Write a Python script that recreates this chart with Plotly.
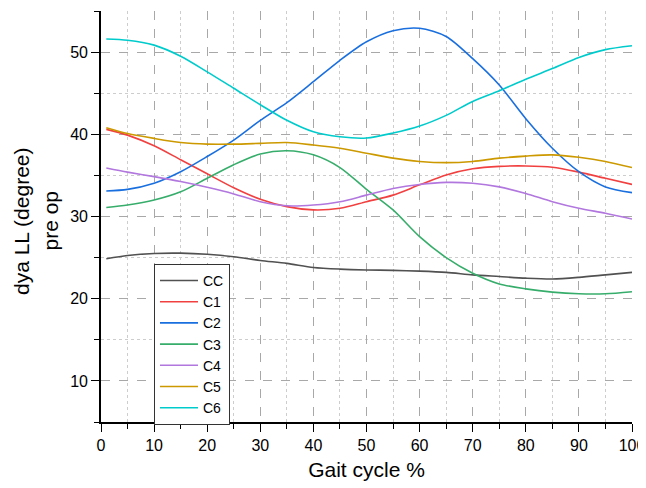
import plotly.graph_objects as go

x = [1, 5, 10, 15, 20, 25, 30, 35, 40, 45, 50, 55, 60, 65, 70, 75, 80, 85, 90, 95, 100]

CC = [24.85, 25.25, 25.5, 25.54, 25.4, 25.1, 24.65, 24.3, 23.8, 23.6, 23.5, 23.45, 23.35, 23.2, 22.9, 22.7, 22.5, 22.4, 22.6, 22.9, 23.2]
C1 = [40.6, 39.9, 38.6, 36.9, 35.2, 33.5, 32.1, 31.2, 30.8, 31.0, 31.8, 32.6, 33.85, 35.05, 35.8, 36.1, 36.15, 36.0, 35.4, 34.65, 33.9]
C2 = [33.1, 33.3, 34.05, 35.45, 37.3, 39.3, 41.7, 43.85, 46.4, 49.0, 51.25, 52.6, 52.9, 51.9, 49.2, 46.0, 41.9, 38.3, 35.45, 33.6, 32.9]
C3 = [31.1, 31.4, 32.0, 33.0, 34.65, 36.3, 37.6, 38.0, 37.5, 35.95, 33.3, 30.8, 27.55, 25.0, 23.1, 21.8, 21.2, 20.8, 20.6, 20.6, 20.85]
C4 = [35.9, 35.4, 34.85, 34.25, 33.55, 32.75, 31.8, 31.3, 31.4, 31.8, 32.6, 33.4, 33.9, 34.15, 34.05, 33.6, 32.8, 31.8, 31.0, 30.4, 29.7]
C5 = [40.8, 40.1, 39.5, 39.0, 38.8, 38.8, 38.9, 39.0, 38.7, 38.3, 37.7, 37.1, 36.7, 36.55, 36.7, 37.1, 37.35, 37.5, 37.2, 36.7, 35.95]
C6 = [51.6, 51.45, 50.85, 49.5, 47.6, 45.6, 43.6, 41.7, 40.3, 39.7, 39.55, 40.15, 41.0, 42.3, 44.0, 45.3, 46.7, 48.0, 49.35, 50.3, 50.77]

names = ["CC", "C1", "C2", "C3", "C4", "C5", "C6"]
series = [CC, C1, C2, C3, C4, C5, C6]
colors = ["#515151", "#F14040", "#1A6FDF", "#37AD6B", "#B177DE", "#CC9900", "#00CBCC"]

y_title_lines = ["dya LL (degree)", "pre op"]
x_title = "Gait cycle %"

fig = go.Figure()
for n, s, c in zip(names, series, colors):
    fig.add_trace(go.Scatter(x=x, y=s, mode="lines", name=n,
                             line=dict(color=c, width=1.6, shape="spline", smoothing=0.8)))

font = "Liberation Sans, Arial, sans-serif"
axis_common = dict(
    showline=True, linecolor="black", linewidth=1.6,
    ticks="outside", ticklen=8, tickwidth=1.4, tickcolor="black",
    showgrid=True, gridcolor="#a8a8a8", griddash="dash", gridwidth=1,
    zeroline=False, mirror=False, automargin=False,
    tickfont=dict(family=font, size=16, color="black"),
)

# page body has an 8px margin, so the figure is sized/offset to land the
# plot area where the reference has it inside the 646x488 window
fig.update_layout(
    width=638, height=480,
    margin=dict(l=93, r=14, t=3, b=66),
    paper_bgcolor="white", plot_bgcolor="white",
    font=dict(family=font, color="black"),
    xaxis=dict(
        range=[0, 100], dtick=10, tick0=0,
        title=dict(text=x_title, font=dict(family=font, size=21), standoff=9),
        minor=dict(dtick=5, ticks="outside", ticklen=5, tickcolor="black",
                   showgrid=True, gridcolor="#cdcdcd", griddash="dot", gridwidth=1),
        **axis_common,
    ),
    yaxis=dict(
        range=[5, 55], dtick=10, tick0=0,
        minor=dict(dtick=5, ticks="outside", ticklen=5, tickcolor="black",
                   showgrid=True, gridcolor="#cdcdcd", griddash="dot", gridwidth=1),
        **axis_common,
    ),
    legend=dict(
        x=0.0998, y=-0.007, xanchor="left", yanchor="bottom",
        bgcolor="white", bordercolor="#333333", borderwidth=1,
        font=dict(family=font, size=14, color="black"),
        tracegroupgap=0, itemwidth=38,
    ),
    showlegend=True,
)

# two-line y-axis title (line spacing as in the reference)
for txt, xp in zip(y_title_lines, [-0.1507, -0.0951]):
    fig.add_annotation(text=txt, xref="paper", yref="paper", x=xp, y=0.489,
                       xanchor="center", yanchor="middle", textangle=-90,
                       showarrow=False, font=dict(family=font, size=21, color="black"))

fig.write_html("out.html")
